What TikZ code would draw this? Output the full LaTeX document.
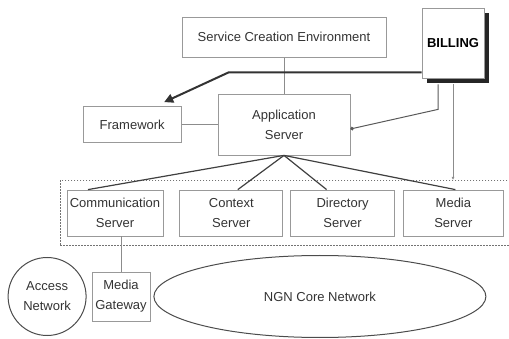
\documentclass[tikz,border=0pt]{standalone}
\usepackage{fontspec}
\setmainfont{Liberation Sans}
\usetikzlibrary{arrows.meta, positioning, shapes.geometric, shadows}
\tikzstyle{block} = [draw=black!40, line width=0.8pt, rectangle, align=center, text=black!80, inner sep=2pt, font=\fontsize{13}{20}\selectfont]
\tikzstyle{server} = [block, minimum height=46pt]
\tikzstyle{bill} = [block, fill=white, text=black, minimum width=62pt, minimum height=70pt, drop shadow={shadow xshift=5pt, shadow yshift=-5pt, fill=black!85, opacity=1}]
\tikzstyle{frame} = [draw=black!55, line width=0.8pt, dash pattern=on 1.5pt off 1.5pt]
\tikzstyle{network} = [block, draw=black!70, line width=1pt]
\tikzstyle{link} = [draw=black!45, line width=0.8pt]
\tikzstyle{fan} = [draw=black!75, line width=1.2pt]
\tikzstyle{feed} = [draw=black!80, line width=2pt, -{Triangle[length=9pt, width=9pt]}]
\tikzstyle{tap} = [draw=black!65, line width=1pt, -{Circle[length=3.5pt]}]

\begin{document}
\begin{tikzpicture}[x=1pt, y=1pt, node distance=8pt]
    \useasboundingbox (0,0) rectangle (509,-339);
    \clip (0,0) rectangle (509,-339);

    \node (app) [block, minimum width=132pt, minimum height=61pt] at (284,-124.5) {Application\\Server};
    \node (sce) [block, minimum width=204pt, minimum height=40pt, above=36pt of app] {Service Creation Environment};
    \node (framework) [block, minimum width=98pt, minimum height=36pt, left=36pt of app] {Framework};
    \node (billing) [bill] at (453,-43) {\textbf{BILLING}};

    % Server row inside the dotted frame.
    \node (group) [frame, minimum width=470pt, minimum height=65pt, anchor=north west] at (60,-180) {};
    \node (comm) [server, minimum width=96pt] at (115,-213) {Communication\\Server};
    \node (context) [server, minimum width=103pt, right=16pt of comm] {Context\\Server};
    \node (directory) [server, minimum width=104pt, right=7pt of context] {Directory\\Server};
    \node (media) [server, minimum width=100pt, right=8pt of directory] {Media\\Server};

    % Access side.
    \node (gateway) [block, minimum width=58pt, minimum height=49pt] at (121,-296.5) {Media\\Gateway};
    \node (access) [network, circle, minimum size=78pt, left=5pt of gateway] {Access\\Network};
    \node (core) [network, ellipse, minimum width=332pt, minimum height=82pt, right=3pt of gateway] {NGN Core Network};

    % Arrows.
    \draw [link] (sce) -- (app);
    \draw [link] (framework) -- (app);
    \draw [feed] ([yshift=6pt]billing.south west) -- ++(-193,0) -- ([shift={(32,4)}]framework.north);
    \draw [tap] ([xshift=-15pt, yshift=-6pt]billing.south) -- ++(0,-25) -- ([yshift=-4.5pt]app.east);
    \draw [link, -{Latex[length=3pt, width=3pt]}] ([yshift=-6pt]billing.south) -- (billing.south |- group.north);

    \foreach \s/\d in {comm/-27, context/6.5, directory/-16, media/2} {%
        \draw [fan] (app.south) -- ([xshift=\d pt]\s.north);
    }
    \draw [link] (gateway.north) -- (gateway.north |- comm.south);
\end{tikzpicture}
\end{document}
